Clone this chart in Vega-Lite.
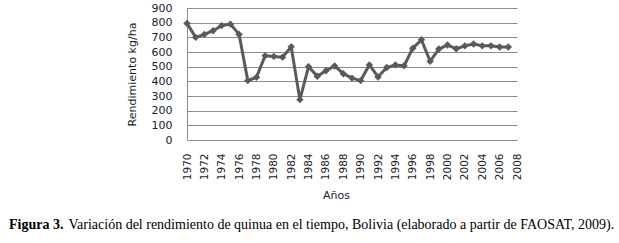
{
  "$schema": "https://vega.github.io/schema/vega-lite/v6.json",
  "autosize": "none",
  "width": 330,
  "height": 132,
  "padding": {"left": 187, "top": 8, "right": 102, "bottom": 103},
  "background": "white",
  "config": {"view": {"stroke": null}},
  "title": {
    "text": "Figura 3.",
    "subtitle": "\u200d\u00a0\u00a0\u00a0\u00a0\u00a0\u00a0\u00a0\u00a0\u00a0\u00a0\u00a0\u00a0\u00a0\u00a0\u00a0\u00a0\u00a0Variación del rendimiento de quinua en el tiempo, Bolivia (elaborado a partir de FAOSAT, 2009).",
    "orient": "bottom",
    "anchor": "start",
    "frame": "group",
    "dx": -178,
    "offset": 17,
    "font": "Liberation Serif",
    "fontSize": 14,
    "fontWeight": "bold",
    "color": "#000000",
    "subtitleFont": "Liberation Serif",
    "subtitleFontSize": 14,
    "subtitleFontWeight": "normal",
    "subtitleColor": "#000000",
    "subtitlePadding": -14
  },
  "data": {
    "values": [
      {"year": 1970, "rend": 795}, {"year": 1971, "rend": 700}, {"year": 1972, "rend": 720},
      {"year": 1973, "rend": 745}, {"year": 1974, "rend": 780}, {"year": 1975, "rend": 790},
      {"year": 1976, "rend": 720}, {"year": 1977, "rend": 405}, {"year": 1978, "rend": 428},
      {"year": 1979, "rend": 575}, {"year": 1980, "rend": 570}, {"year": 1981, "rend": 565},
      {"year": 1982, "rend": 635}, {"year": 1983, "rend": 275}, {"year": 1984, "rend": 500},
      {"year": 1985, "rend": 435}, {"year": 1986, "rend": 472}, {"year": 1987, "rend": 505},
      {"year": 1988, "rend": 452}, {"year": 1989, "rend": 422}, {"year": 1990, "rend": 405},
      {"year": 1991, "rend": 512}, {"year": 1992, "rend": 430}, {"year": 1993, "rend": 494},
      {"year": 1994, "rend": 512}, {"year": 1995, "rend": 506}, {"year": 1996, "rend": 626},
      {"year": 1997, "rend": 683}, {"year": 1998, "rend": 537}, {"year": 1999, "rend": 620},
      {"year": 2000, "rend": 648}, {"year": 2001, "rend": 622}, {"year": 2002, "rend": 642},
      {"year": 2003, "rend": 654}, {"year": 2004, "rend": 642}, {"year": 2005, "rend": 642},
      {"year": 2006, "rend": 634}, {"year": 2007, "rend": 634}
    ]
  },
  "mark": {
    "type": "line",
    "color": "#5c585c",
    "strokeWidth": 3,
    "point": {"shape": "diamond", "size": 55, "filled": true, "color": "#5c585c"}
  },
  "encoding": {
    "x": {
      "field": "year",
      "type": "quantitative",
      "scale": {"domain": [1970, 2008], "nice": false, "zero": false},
      "axis": {
        "title": "Años",
        "values": [1970, 1972, 1974, 1976, 1978, 1980, 1982, 1984, 1986, 1988, 1990, 1992, 1994, 1996, 1998, 2000, 2002, 2004, 2006, 2008],
        "format": "d",
        "labelAngle": -90,
        "labelPadding": 13,
        "labelFont": "DejaVu Sans",
        "labelFontSize": 10.5,
        "labelColor": "#1a1a2a",
        "labelOverlap": false,
        "labelFlush": false,
        "ticks": false,
        "domain": false,
        "grid": false,
        "titleFont": "DejaVu Sans",
        "titleFontSize": 11,
        "titleFontWeight": "normal",
        "titleColor": "#1a1a2a",
        "titleX": 149,
        "titlePadding": 10
      }
    },
    "y": {
      "field": "rend",
      "type": "quantitative",
      "scale": {"domain": [0, 900], "nice": false},
      "axis": {
        "title": "Rendimiento kg/ha",
        "values": [0, 100, 200, 300, 400, 500, 600, 700, 800, 900],
        "labelPadding": 15,
        "labelFont": "DejaVu Sans",
        "labelFontSize": 11,
        "labelColor": "#1a1a2a",
        "ticks": false,
        "domainColor": "#8c8c8c",
        "grid": true,
        "gridColor": "#8c8c8c",
        "gridWidth": 1,
        "titleFont": "DejaVu Sans",
        "titleFontSize": 11,
        "titleFontWeight": "normal",
        "titleColor": "#1a1a2a",
        "titlePadding": 14
      }
    }
  }
}
